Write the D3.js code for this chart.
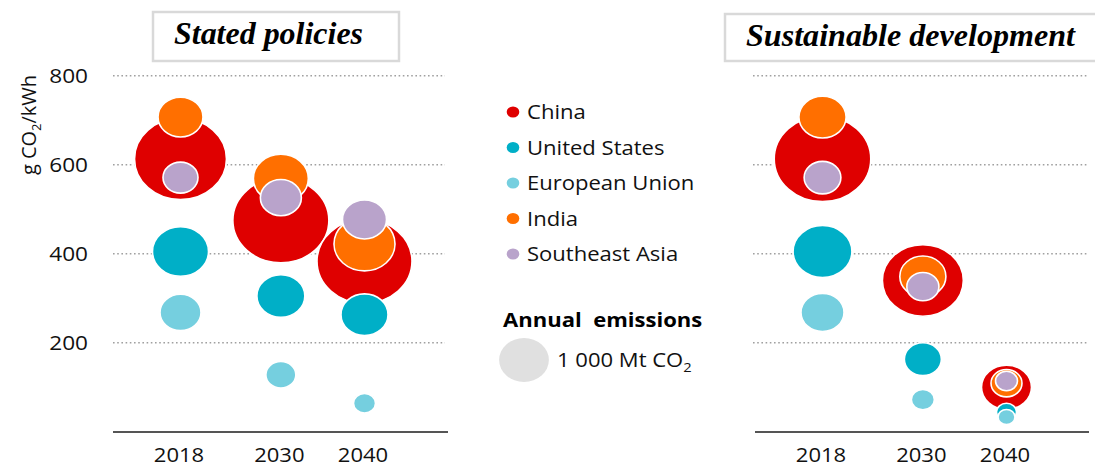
<!DOCTYPE html>
<html><head><meta charset="utf-8">
<script src="https://cdn.jsdelivr.net/npm/d3@7"></script>
<style>body{margin:0;background:#fff}svg{display:block}</style>
</head><body>
<svg id="c" width="1095" height="468"></svg>
<script>
// ---- data ----
const years = [2018, 2030, 2040];
const regions = ["China", "United States", "European Union", "India", "Southeast Asia"];
const colors = ["#df0000", "#00afc7", "#75cfdf", "#ff6f00", "#b9a3cb"];
const yTicks = [200, 400, 600, 800];
const scenarios = ["Stated policies", "Sustainable development"];
// intensity g CO2/kWh, per region per year [2018, 2030, 2040]
const spIntensity = {
  "China": [613, 475, 383], "United States": [405, 305, 263], "European Union": [268, 128, 64],
  "India": [707, 569, 422], "Southeast Asia": [571, 526, 477]
};
// annual emissions Mt CO2
const spEmissions = {
  "China": [3420, 3730, 3650], "United States": [1270, 930, 894], "European Union": [680, 364, 196],
  "India": [818, 1222, 1506], "Southeast Asia": [496, 680, 785]
};
const sdsIntensity = {
  "China": [613, 340, 100], "United States": [405, 163, 44], "European Union": [268, 72, 33],
  "India": [707, 349, 109], "Southeast Asia": [571, 326, 114]
};
const sdsEmissions = {
  "China": [3420, 2403, 917], "United States": [1270, 503, 147], "European Union": [680, 194, 106],
  "India": [818, 779, 352], "Southeast Asia": [496, 377, 177]
};
const legendEmission = 1000;

// ---- drawing ----
const svg = d3.select("#c");
const FONT = "'Open Sans', sans-serif";
const y = d3.scaleLinear().domain([0, 800]).range([431.7, 75.7]);
const STRETCH = 1.13;
const baseR = d3.scaleSqrt().domain([0, 1000]).range([0, 22]);

const panels = [
  {title: scenarios[0], inten: spIntensity, emis: spEmissions, x: d3.scaleLinear().domain([2018, 2040]).range([180.5, 364.5]),
   grid: [113, 445], axis: [113, 448], box: [153, 12, 246, 49], tx: 268.5, ty: 44, tl: 189, rk: 1.0},
  {title: scenarios[1], inten: sdsIntensity, emis: sdsEmissions, x: d3.scaleLinear().domain([2018, 2040]).range([822.5, 1006.5]),
   grid: [753, 1087], axis: [755, 1089], box: [725, 14, 380, 47], tx: 910.5, ty: 46, tl: 329, rk: 1.05}
];

panels.forEach(p => {
  svg.append("rect").attr("x", p.box[0]).attr("y", p.box[1]).attr("width", p.box[2]).attr("height", p.box[3])
    .attr("fill", "#fff").attr("stroke", "#d9d9d9").attr("stroke-width", 2.5);
  svg.append("text").attr("x", p.tx).attr("y", p.ty).attr("text-anchor", "middle")
    .attr("font-family", "'Liberation Serif', 'Times New Roman', serif").attr("font-weight", "bold")
    .attr("font-style", "italic").attr("font-size", 31)
    .attr("textLength", p.tl).attr("lengthAdjust", "spacingAndGlyphs").text(p.title);
  svg.append("g").selectAll("line").data(yTicks).join("line")
    .attr("x1", p.grid[0]).attr("x2", p.grid[1]).attr("y1", d => y(d)).attr("y2", d => y(d))
    .attr("stroke", "#a0a0a0").attr("stroke-width", 1.6).attr("stroke-dasharray", "1.6,2.6");
  const ax = svg.append("g").attr("transform", "translate(0,432)")
    .call(d3.axisBottom(p.x).tickValues(years).tickFormat(d3.format("d")).tickSize(0).tickPadding(0));
  ax.select(".domain").remove();
  ax.append("line").attr("x1", p.axis[0]).attr("x2", p.axis[1]).attr("stroke", "#555").attr("stroke-width", 2);
  ax.selectAll(".tick text").attr("class", "s").attr("font-family", FONT).attr("font-size", 19.5).attr("fill", "#111")
    .attr("dx", -2).attr("y", 30).attr("dy", 0);
  const order = ["China", "India", "Southeast Asia", "United States", "European Union"];
  const bubbles = [];
  order.forEach(reg => years.forEach((yr, i) => {
    bubbles.push({reg, yr, v: p.inten[reg][i], e: p.emis[reg][i]});
  }));
  svg.append("g").selectAll("ellipse").data(bubbles).join("ellipse")
    .attr("cx", d => p.x(d.yr)).attr("cy", d => y(d.v))
    .attr("ry", d => baseR(d.e) * p.rk).attr("rx", d => baseR(d.e) * p.rk * STRETCH)
    .attr("fill", d => colors[regions.indexOf(d.reg)])
    .attr("stroke", "#fff").attr("stroke-width", 1.6);
});

// y axis labels
svg.append("g").selectAll("text").data(yTicks).join("text").attr("class", "s")
  .attr("x", 88).attr("y", d => y(d)).attr("dy", "0.36em").attr("text-anchor", "end")
  .attr("font-family", FONT).attr("font-size", 20).attr("fill", "#111").text(d => d);
const yt = svg.append("text").attr("transform", "translate(36,125) rotate(-90)").attr("text-anchor", "middle")
  .attr("font-family", FONT).attr("font-size", 20).attr("fill", "#111");
yt.append("tspan").text("g CO");
yt.append("tspan").attr("font-size", 13).attr("dy", 5).text("2");
yt.append("tspan").attr("dy", -5).text("/kWh");

// legend
const lg = svg.append("g");
regions.forEach((r, i) => {
  const cy = 112 + i * 35.5;
  lg.append("ellipse").attr("cx", 513).attr("cy", cy).attr("rx", 6.3).attr("ry", 5.5).attr("fill", colors[i]);
  lg.append("text").attr("class", "s").attr("x", 527).attr("y", cy).attr("dy", "0.36em").attr("font-family", FONT)
    .attr("font-size", 19.5).attr("fill", "#111").text(r);
});
lg.append("text").attr("class", "s").attr("x", 503).attr("y", 327).attr("font-family", FONT).attr("font-weight", "bold")
  .attr("font-size", 19.5).attr("fill", "#000").attr("xml:space", "preserve").text("Annual  emissions");
lg.append("ellipse").attr("cx", 524).attr("cy", 360).attr("ry", baseR(legendEmission)).attr("rx", baseR(legendEmission) * STRETCH)
  .attr("fill", "#e0e0e0");
const lt = lg.append("text").attr("class", "s").attr("x", 557).attr("y", 367).attr("font-family", FONT).attr("font-size", 19.5).attr("fill", "#111");
lt.append("tspan").text("1 000 Mt CO");
lt.append("tspan").attr("font-size", 13).attr("dy", 5).text("2");

// horizontal stretch of text (reference is drawn ~13% wider than tall)
svg.selectAll("text.s").each(function() {
  const w = this.getComputedTextLength();
  d3.select(this).attr("textLength", w * STRETCH).attr("lengthAdjust", "spacingAndGlyphs");
});
</script>
</body></html>
